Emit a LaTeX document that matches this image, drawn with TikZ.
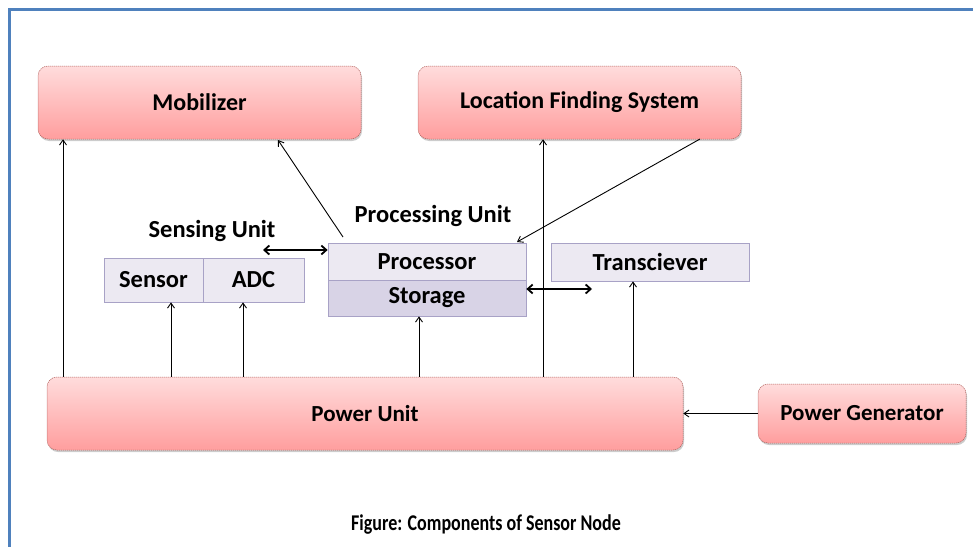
\documentclass[tikz,border=0pt]{standalone}
\usepackage{fontspec}
\setmainfont{Carlito}
\usetikzlibrary{arrows.meta,shadows,calc}
\definecolor{pinktop}{HTML}{FFDCDC}
\definecolor{pinkbot}{HTML}{FF9E9E}
\definecolor{pinkedge}{HTML}{B0605C}
\definecolor{lavlight}{HTML}{ECE9F2}
\definecolor{lavdark}{HTML}{D8D3E6}
\definecolor{lavedge}{HTML}{A8A2C6}
\definecolor{frameblue}{HTML}{4F81BD}
\begin{document}
\begin{tikzpicture}[x=1pt,y=-1pt,
  pinkbox/.style={draw=pinkedge, dash pattern=on 1.2pt off 0.8pt, line width=0.5pt,
    rounded corners=10pt, top color=pinktop, bottom color=pinkbot,
    drop shadow={shadow xshift=1pt, shadow yshift=-2pt, opacity=0.2, fill=black},
    font=\bfseries\fontsize{24}{28}\selectfont, inner sep=0pt},
  lavbox/.style={draw=lavedge, line width=0.7pt, fill=lavlight, inner sep=0pt,
    font=\bfseries\fontsize{24.5}{28}\selectfont},
  lbl/.style={font=\bfseries\fontsize{24.5}{28}\selectfont, inner sep=0pt},
  arr/.style={-{Straight Barb[length=5pt,width=7pt]}, line width=0.9pt},
  darr/.style={{Straight Barb[length=5pt,width=9pt]}-{Straight Barb[length=5pt,width=9pt]}, line width=1.8pt}
]
\useasboundingbox (0,0) rectangle (973,546);
% frame
\draw[frameblue, line width=3pt] (9.5,560) -- (9.5,9.5) -- (985,9.5);

% top boxes
\node[pinkbox, minimum width=323pt, minimum height=73pt] (mob) at (199.5,102.5) {Mobilizer};
\node[pinkbox, minimum width=323pt, minimum height=73pt] (loc) at (579.5,102.5) {Location Finding System};

% labels
\node[lbl] (sulbl) at (212,231) {Sensing Unit};
\node[lbl] (pulbl) at (433,216) {Processing Unit};

% sensing unit
\node[lavbox, minimum width=99pt, minimum height=44pt] (sen) at (153.5,280) {Sensor};
\node[lavbox, minimum width=101pt, minimum height=44pt] (adc) at (253.5,280) {ADC};

% processing unit
\node[lavbox, minimum width=198pt, minimum height=37pt] (proc) at (427,261.5) {Processor};
\node[lavbox, fill=lavdark, minimum width=198pt, minimum height=36pt] (stor) at (427,298) {Storage};

% transceiver
\node[lavbox, minimum width=198pt, minimum height=38pt] (trx) at (650,262) {Transciever};

% power
\node[pinkbox, font=\bfseries\fontsize{23}{27}\selectfont, minimum width=636pt, minimum height=73pt] (pu) at (365,413.5) {Power Unit};
\node[pinkbox, font=\bfseries\fontsize{23}{27}\selectfont, minimum width=208pt, minimum height=59pt] (pg) at (862,413.5) {Power Generator};

% caption
\node[font=\bfseries\fontsize{22.5}{26}\selectfont, inner sep=0pt] (cap) at (486,525) {\scalebox{0.8}[1]{Figure: Components of Sensor Node}};

% helper coordinates
\coordinate (x1) at (63,0);
\coordinate (x2) at (171,0);
\coordinate (x3) at (243,0);
\coordinate (x4) at (419,0);
\coordinate (x5) at (543,0);
\coordinate (x6) at (633,0);

% power arrows
\draw[arr] (pu.north -| x1) -- (mob.south -| x1);
\draw[arr] (pu.north -| x2) -- (sen.south -| x2);
\draw[arr] (pu.north -| x3) -- (adc.south -| x3);
\draw[arr] (pu.north -| x4) -- (stor.south -| x4);
\draw[arr] (pu.north -| x5) -- (loc.south -| x5);
\draw[arr] (pu.north -| x6) -- (trx.south -| x6);
\draw[arr] (pg.west) -- (pu.east |- pg.west);

% processor to mobilizer
\coordinate (pm1) at (343,237);
\coordinate (pm2) at (278,140);
\draw[arr] (pm1) -- (pm2);
% location finding to processor
\coordinate (lp1) at (700,139);
\coordinate (lp2) at (517,242);
\draw[arr] (lp1) -- (lp2);

% double arrows
\coordinate (d1) at (263,250);
\draw[darr] (d1) -- (proc.west |- d1);
\coordinate (d2) at (592,289);
\draw[darr] (stor.east |- d2) -- (d2);
\end{tikzpicture}
\end{document}
